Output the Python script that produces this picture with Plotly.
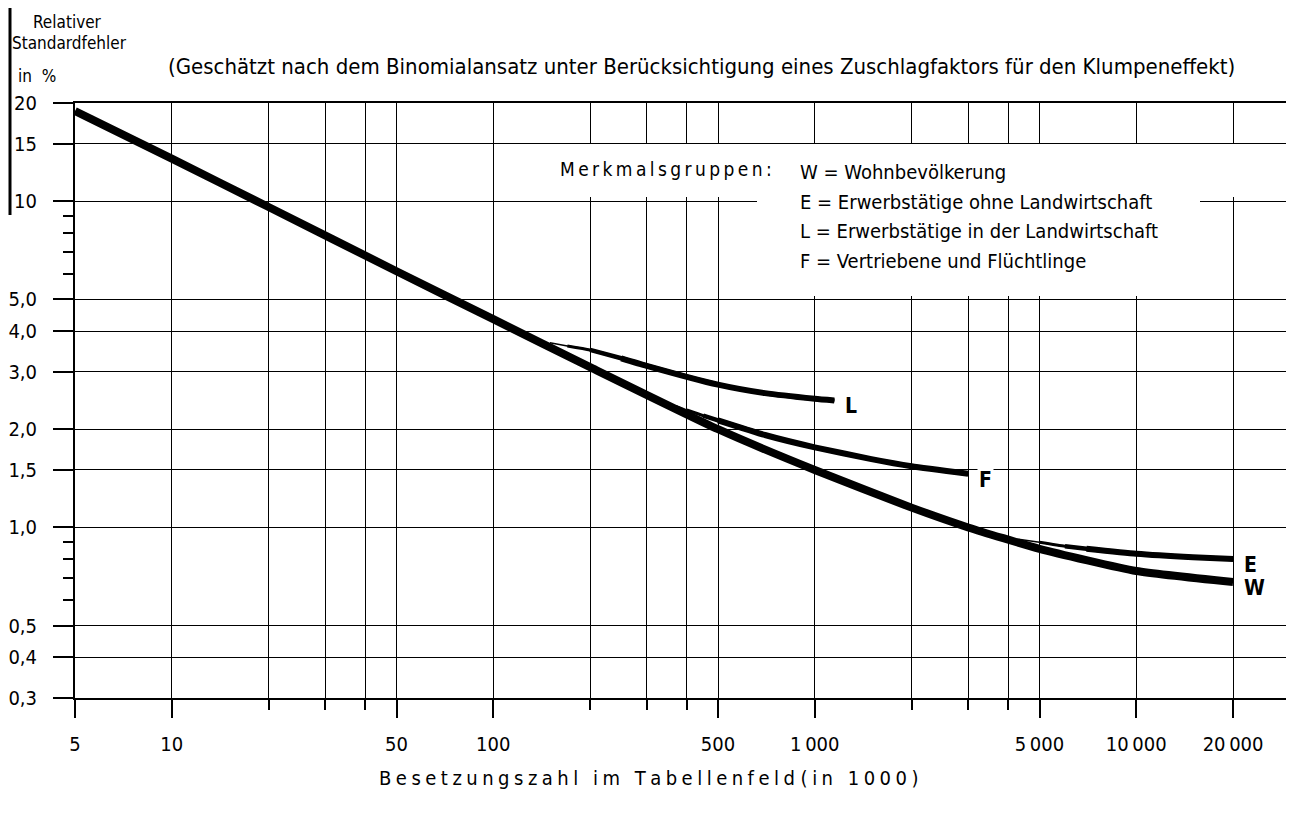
import numpy as np
import plotly.graph_objects as go

# Besetzungszahl im Tabellenfeld (in 1000) -> relativer Standardfehler (in %)
w_x = [5, 10, 20, 50, 100, 200, 500, 1000, 2000, 3000, 5000, 10000, 20000]
w_y = [18.9, 13.5, 9.6, 6.1, 4.35, 3.1, 2.0, 1.5, 1.15, 1.0, 0.86, 0.735, 0.68]

l_x = [150, 170, 200, 250, 300, 500, 700, 1000, 1150]
l_y = [3.68, 3.60, 3.50, 3.30, 3.13, 2.74, 2.58, 2.48, 2.45]

f_x = [370, 400, 450, 500, 700, 1000, 1500, 2000, 3000]
f_y = [2.36, 2.29, 2.20, 2.13, 1.92, 1.76, 1.62, 1.54, 1.46]

e_x = [4300, 5000, 6000, 7000, 10000, 15000, 20000]
e_y = [0.92, 0.90, 0.875, 0.86, 0.83, 0.81, 0.80]

x_major = [5, 10, 50, 100, 500, 1000, 5000, 10000, 20000]
x_major_text = ["5", "10", "50", "100", "500", "1\u202f000", "5\u202f000", "10\u202f000", "20\u202f000"]
x_minor = [20, 30, 40, 200, 300, 400, 2000, 3000, 4000]

y_major = [0.3, 0.4, 0.5, 1, 1.5, 2, 3, 4, 5, 10, 15, 20]
y_major_text = ["0,3", "0,4", "0,5", "1,0", "1,5", "2,0", "3,0", "4,0", "5,0", "10", "15", "20"]
y_minor = [0.6, 0.7, 0.8, 0.9, 6, 7, 8, 9]

legend_lines = ["W = Wohnbevölkerung",
                "E = Erwerbstätige ohne Landwirtschaft",
                "L = Erwerbstätige in der Landwirtschaft",
                "F = Vertriebene und Flüchtlinge"]

FONT = "DejaVu Sans Condensed, Liberation Sans Narrow, Roboto Condensed, sans-serif"
OFF = 8  # page body margin
W, H = 1294 - OFF, 818 - 2 * OFF
PLOT_L, PLOT_T, PLOT_B = 75, 103, 698  # plot area on screen
L_M, T_M = PLOT_L - OFF, PLOT_T - OFF
B_M = H - (PLOT_B - OFF)
PW, PH = W - L_M, PLOT_B - PLOT_T


def px(x):  # screen pixel -> paper (x)
    return (x - PLOT_L) / PW


def py(y):  # screen pixel -> paper (y)
    return (PLOT_B - y) / PH


def spaced(s, sp="\u2009"):  # gesperrter Satz
    return sp.join(s)


fig = go.Figure()

# main curve
fig.add_trace(go.Scatter(x=w_x, y=w_y, mode="lines", line=dict(color="black", width=8, shape="spline", smoothing=0.5)))

# branches, tapered at their start
for bx, by in [(l_x, l_y), (f_x, f_y), (e_x, e_y)]:
    for i, wd in enumerate([1.5, 3, 4.5, 6]):
        fig.add_trace(go.Scatter(x=bx[i:], y=by[i:], mode="lines",
                                 line=dict(color="black", width=wd, shape="spline", smoothing=0.5)))

# curve labels at the end of each curve
for lab, cx, cy in [("L", l_x, l_y), ("F", f_x, f_y), ("E", e_x, e_y), ("W", w_x, w_y)]:
    fig.add_annotation(x=np.log10(cx[-1]), y=np.log10(cy[-1]), text="<b>" + lab + "</b>", showarrow=False,
                       xanchor="left", xshift=9, yshift=-6, font=dict(size=21, color="black", family=FONT),
                       bgcolor="white" if lab == "F" else None)

# white areas behind the key (grid interrupted there)
fig.add_shape(type="rect", xref="paper", yref="paper", x0=px(545), x1=px(1300), y0=py(197), y1=py(144),
              fillcolor="white", line_width=0, layer="above")
fig.add_shape(type="rect", xref="paper", yref="paper", x0=px(757), x1=px(1200), y0=py(296), y1=py(144),
              fillcolor="white", line_width=0, layer="above")
# scan border on the left
fig.add_shape(type="line", xref="paper", yref="paper", x0=px(10), x1=px(10), y0=py(8), y1=py(215),
              line=dict(color="black", width=3))

fig.add_annotation(xref="paper", yref="paper", x=px(558), y=py(169), text=spaced("Merkmalsgruppen:"),
                   showarrow=False, xanchor="left", yanchor="middle", font=dict(size=19))
for i, t in enumerate(legend_lines):
    fig.add_annotation(xref="paper", yref="paper", x=px(798), y=py(172 + i * 29.7), text=t,
                       showarrow=False, xanchor="left", yanchor="middle", font=dict(size=20))

# titles
fig.add_annotation(xref="paper", yref="paper", x=px(166), y=py(66),
                   text="(Geschätzt nach dem Binomialansatz unter Berücksichtigung eines Zuschlagfaktors für den Klumpeneffekt)",
                   showarrow=False, xanchor="left", yanchor="middle", font=dict(size=22))
for t, xc, yc in [("Relativer", 67, 22), ("Standardfehler", 69, 43), ("in  %", 37, 76)]:
    fig.add_annotation(xref="paper", yref="paper", x=px(xc), y=py(yc), text=t, showarrow=False,
                       xanchor="center", yanchor="middle", font=dict(size=17))
fig.add_annotation(xref="paper", yref="paper", x=px(649), y=py(778),
                   text=spaced("Besetzungszahl im Tabellenfeld", "\u2005") + " " + spaced("(in 1000)", "\u2005"),
                   showarrow=False, xanchor="center", yanchor="middle", font=dict(size=20))

fig.update_xaxes(type="log", range=[np.log10(5), np.log10(5) + PW / 321.5],
                 tickmode="array", tickvals=x_major, ticktext=x_major_text,
                 ticks="outside", ticklen=18, tickwidth=1.5, tickcolor="black",
                 showgrid=True, gridcolor="black", gridwidth=1.4,
                 showline=True, linecolor="black", linewidth=2, mirror=True,
                 minor=dict(tickvals=x_minor, ticks="outside", ticklen=10, tickwidth=1.5, tickcolor="black",
                            showgrid=True, gridcolor="black", gridwidth=1.4),
                 tickfont=dict(size=20), ticklabelstandoff=9, zeroline=False)
fig.update_yaxes(type="log", range=[np.log10(0.3), np.log10(20)],
                 tickmode="array", tickvals=y_major, ticktext=y_major_text,
                 ticks="outside", ticklen=20, tickwidth=1.5, tickcolor="black",
                 showgrid=True, gridcolor="black", gridwidth=1.4,
                 showline=True, linecolor="black", linewidth=2,
                 minor=dict(tickvals=y_minor, ticks="outside", ticklen=10, tickwidth=1.5, tickcolor="black",
                            showgrid=False),
                 tickfont=dict(size=20), ticklabelstandoff=12, zeroline=False)

fig.update_layout(width=W, height=H, margin=dict(l=L_M, r=0, t=T_M, b=B_M),
                  paper_bgcolor="white", plot_bgcolor="white", showlegend=False,
                  font=dict(family=FONT, color="black", size=20))

fig.write_html("out.html")
